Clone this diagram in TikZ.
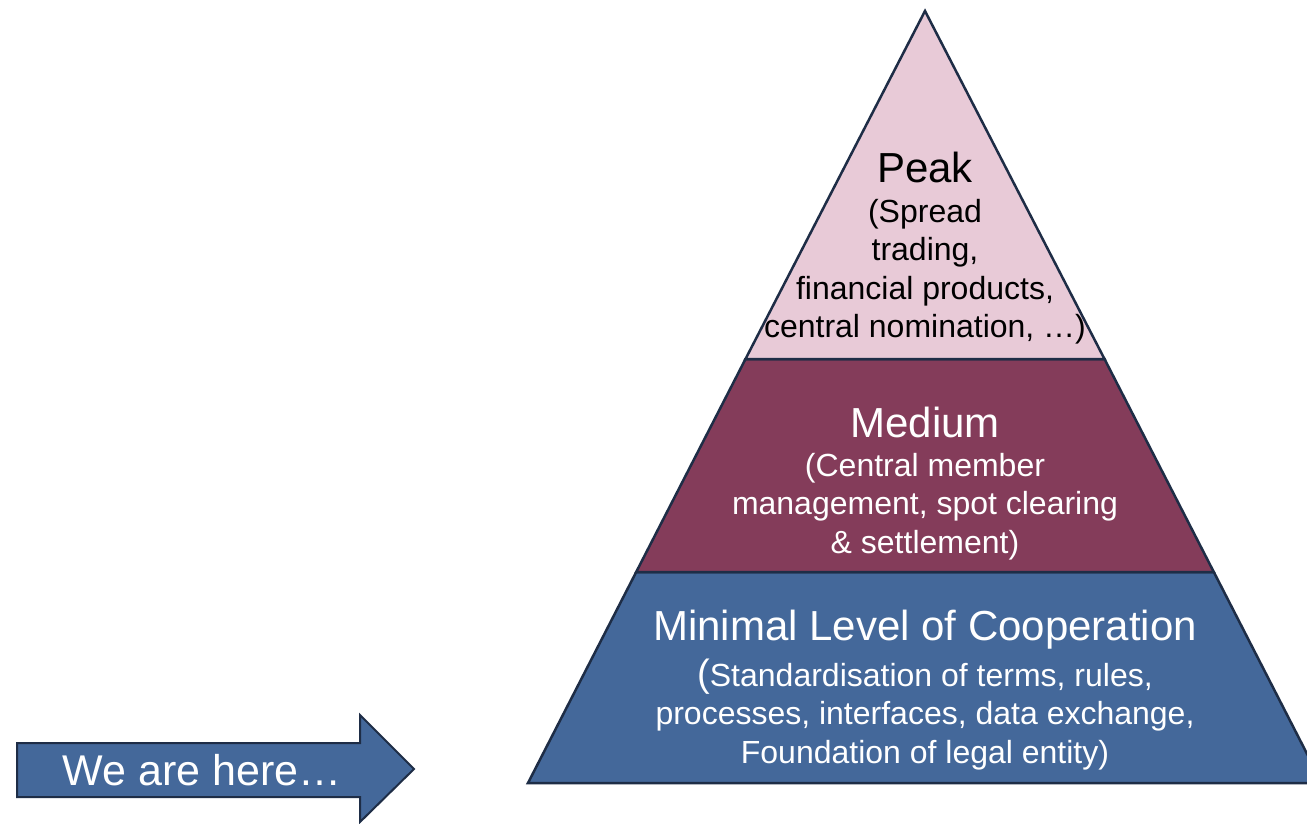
\documentclass[tikz,border=0pt]{standalone}
\usepackage{fontspec}
\setmainfont{Liberation Sans}
\usetikzlibrary{positioning}
\definecolor{peakpink}{RGB}{232,202,215}
\definecolor{mediumred}{RGB}{132,60,90}
\definecolor{basisblue}{RGB}{68,104,154}
\definecolor{rand}{RGB}{30,45,70}

\begin{document}
\begin{tikzpicture}[x=1pt,y=-1pt,
  layer/.style={draw=rand, line width=2.5pt, line join=miter},
  titel/.style={inner sep=0pt, text depth=0pt, anchor=base, font=\fontsize{42}{50}\selectfont},
  body/.style={inner sep=0pt, align=center, font=\fontsize{32}{38.5}\selectfont}]
\useasboundingbox (0,0) rectangle (1307,823);
\fill[white] (0,0) rectangle (1307,823);
\draw[layer, fill=basisblue] (636.2,572) -- (1213.8,572) -- (1322,783) -- (528,783) -- cycle;
\draw[layer, fill=mediumred] (745.5,359) -- (1104.5,359) -- (1213.8,572) -- (636.2,572) -- cycle;
\draw[layer, fill=peakpink] (925,11) -- (1104.5,359) -- (745.5,359) -- cycle;
\draw[layer, fill=basisblue, line width=2pt] (17,743) -- (360,743) -- (360,715) -- (414,769) -- (360,822) -- (360,797) -- (17,797) -- cycle;

\node[titel] (Peak) at (925,182) {Peak};
\node[body, below=16.6pt of Peak] (PeakText) {(Spread\\trading,\\financial products,\\central nomination, …)};
\node[titel, text=white] (Medium) at (925,437) {Medium};
\node[body, text=white, below=15.6pt of Medium] (MediumText) {(Central member\\management, spot clearing\\\& settlement)};
\node[titel, text=white] (Minimal) at (925,640) {Minimal Level of Cooperation};
\node[body, text=white, below=18.3pt of Minimal] (MinimalText) {{\fontsize{38}{38.5}\selectfont(}Standardisation of terms, rules,\\processes, interfaces, data exchange,\\Foundation of legal entity)};
\node[titel, text=white, font=\fontsize{43}{50}\selectfont] (Here) at (202,785) {We are here…};
\end{tikzpicture}
\end{document}
